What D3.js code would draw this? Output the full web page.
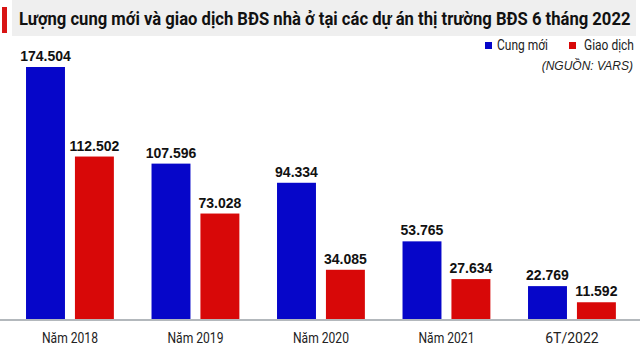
<!DOCTYPE html>
<html><head><meta charset="utf-8">
<script src="https://cdn.jsdelivr.net/npm/d3@7"></script>
<style>body{margin:0;background:#fff}svg{display:block}</style>
</head><body>
<svg id="c" width="640" height="354"></svg>
<script>
const categories = ["Năm 2018","Năm 2019","Năm 2020","Năm 2021","6T/2022"];
const cungMoi = [174504,107596,94334,53765,22769];
const giaoDich = [112502,73028,34085,27634,11592];
const seriesNames = ["Cung mới","Giao dịch"];
const seriesColors = ["#0606c9","#d80808"];
const title = "Lượng cung mới và giao dịch BĐS nhà ở tại các dự án thị trường BĐS 6 tháng 2022";
const source = "(NGUỒN: VARS)";

const fmt = v => d3.format(",")(v).replace(/,/g,".");
const svg = d3.select("#c");

// draws text narrowed horizontally to a target width (condensed look)
function narrowText(parent, txt, x, y, w, anchor, attrs){
  const t = parent.append("text").text(txt);
  Object.entries(attrs).forEach(([k,v])=>t.attr(k,v));
  const nat = t.node().getComputedTextLength();
  const k = Math.min(1, w/nat);
  const left = anchor==="middle" ? x - nat*k/2 : x;
  t.attr("transform",`translate(${left},${y}) scale(${k},1)`);
  return t;
}

// title band
svg.append("rect").attr("x",12).attr("y",0).attr("width",624).attr("height",36).attr("fill","#efefef");
svg.append("rect").attr("x",2).attr("y",7).attr("width",5).attr("height",26).attr("fill","#d81414");
narrowText(svg, title, 19, 25, 612, "start", {"font-family":"Roboto, 'Liberation Sans', sans-serif","font-weight":700,"font-size":18,"fill":"#111"});

const x0 = d3.scaleBand().domain(categories).range([7.2,634.7]).paddingInner(0.3).paddingOuter(0.15);
const x1 = d3.scaleBand().domain(seriesNames).range([0,x0.bandwidth()]).paddingInner(0.204);
const y = d3.scaleLinear().domain([0,174504]).range([319,67]);

const data = categories.map((c,i)=>({c, vals:[cungMoi[i],giaoDich[i]]}));
const g = svg.selectAll("g.grp").data(data).join("g").attr("class","grp")
  .attr("transform",d=>`translate(${x0(d.c)},0)`);
g.selectAll("rect").data(d=>d.vals.map((v,j)=>({v,s:seriesNames[j],j})))
  .join("rect").attr("x",d=>x1(d.s)).attr("width",x1.bandwidth())
  .attr("y",d=>y(d.v)).attr("height",d=>y(0)-y(d.v)).attr("fill",d=>seriesColors[d.j]);
g.selectAll("text.val").data(d=>d.vals.map((v,j)=>({v,s:seriesNames[j]})))
  .join("text").attr("class","val").attr("x",d=>x1(d.s)+x1.bandwidth()/2).attr("y",d=>y(d.v)-6)
  .attr("text-anchor","middle").attr("font-family","'Liberation Sans', Arial, sans-serif")
  .attr("font-weight",700).attr("font-size",14).attr("fill","#111").text(d=>fmt(d.v));

// axis
const ax = svg.append("g").attr("transform","translate(0,320)")
  .call(d3.axisBottom(x0).tickSize(0).tickPadding(0));
ax.select(".domain").attr("d","M0,0H640").attr("stroke","#9aa0a6").attr("stroke-width",1.5);
ax.selectAll(".tick text").remove();
categories.forEach(c=>{
  narrowText(svg, c, x0(c)+x0.bandwidth()/2, 343, 56, "middle", {"font-family":"Roboto, sans-serif","font-size":14,"fill":"#222"});
});

// legend
const leg = [{x:485,tx:497,w:51},{x:569,tx:584,w:50}];
leg.forEach((l,i)=>{
  svg.append("rect").attr("x",l.x).attr("y",42).attr("width",7).attr("height",7).attr("fill",seriesColors[i]);
  narrowText(svg, seriesNames[i], l.tx, 50, l.w, "start", {"font-family":"Roboto, sans-serif","font-size":14,"fill":"#222"});
});
svg.append("text").attr("x",633).attr("y",70).attr("text-anchor","end").text(source)
  .attr("font-family","'Liberation Sans', Arial, sans-serif").attr("font-style","italic")
  .attr("font-size",12).attr("fill","#222");
</script>
</body></html>
